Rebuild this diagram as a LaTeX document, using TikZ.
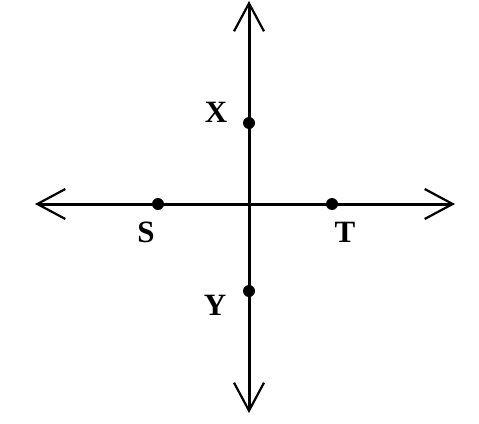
\documentclass[tikz,border=0pt]{standalone}
\usepackage{fontspec}
\setmainfont{Liberation Serif}
\usetikzlibrary{arrows.meta,positioning}
\tikzset{
    %Define standard arrow tip
    >={Straight Barb[length=28pt,width=30pt,line width=2.2pt]},
    %Define style for the points
    punkt/.style={
           circle,
           fill=black,
           inner sep=0pt,
           minimum size=12pt},
    %Define style for the letters
    navn/.style={
           font=\fontsize{31}{31}\selectfont\bfseries,
           inner sep=0pt},
    % Define axis style
    akse/.style={
           <->,
           line width=3pt}
}
\begin{document}
\begin{tikzpicture}[x=1pt,y=-1pt]
\useasboundingbox (0,0) rectangle (479,423);
%ends of the two lines
\coordinate (venstre) at (35,204);
\coordinate (hoyre) at (455,204);
\coordinate (topp) at (249,1);
\coordinate (bunn) at (249,413);
\draw[akse] (venstre) -- (hoyre);
\draw[akse] (topp) -- (bunn);
%points on the lines
\node[punkt] (pX) at (249,123) {};
\node[punkt] (pY) at (249,291) {};
\node[punkt] (pS) at (158,204) {};
\node[punkt] (pT) at (332,204) {};
%letters
\node[navn] (lX) at (216,112) {X};
\node[navn] (lY) at (215,305) {Y};
\node[navn] (lS) at (146,232) {S};
\node[navn] (lT) at (345,232) {T};
\end{tikzpicture}
\end{document}
